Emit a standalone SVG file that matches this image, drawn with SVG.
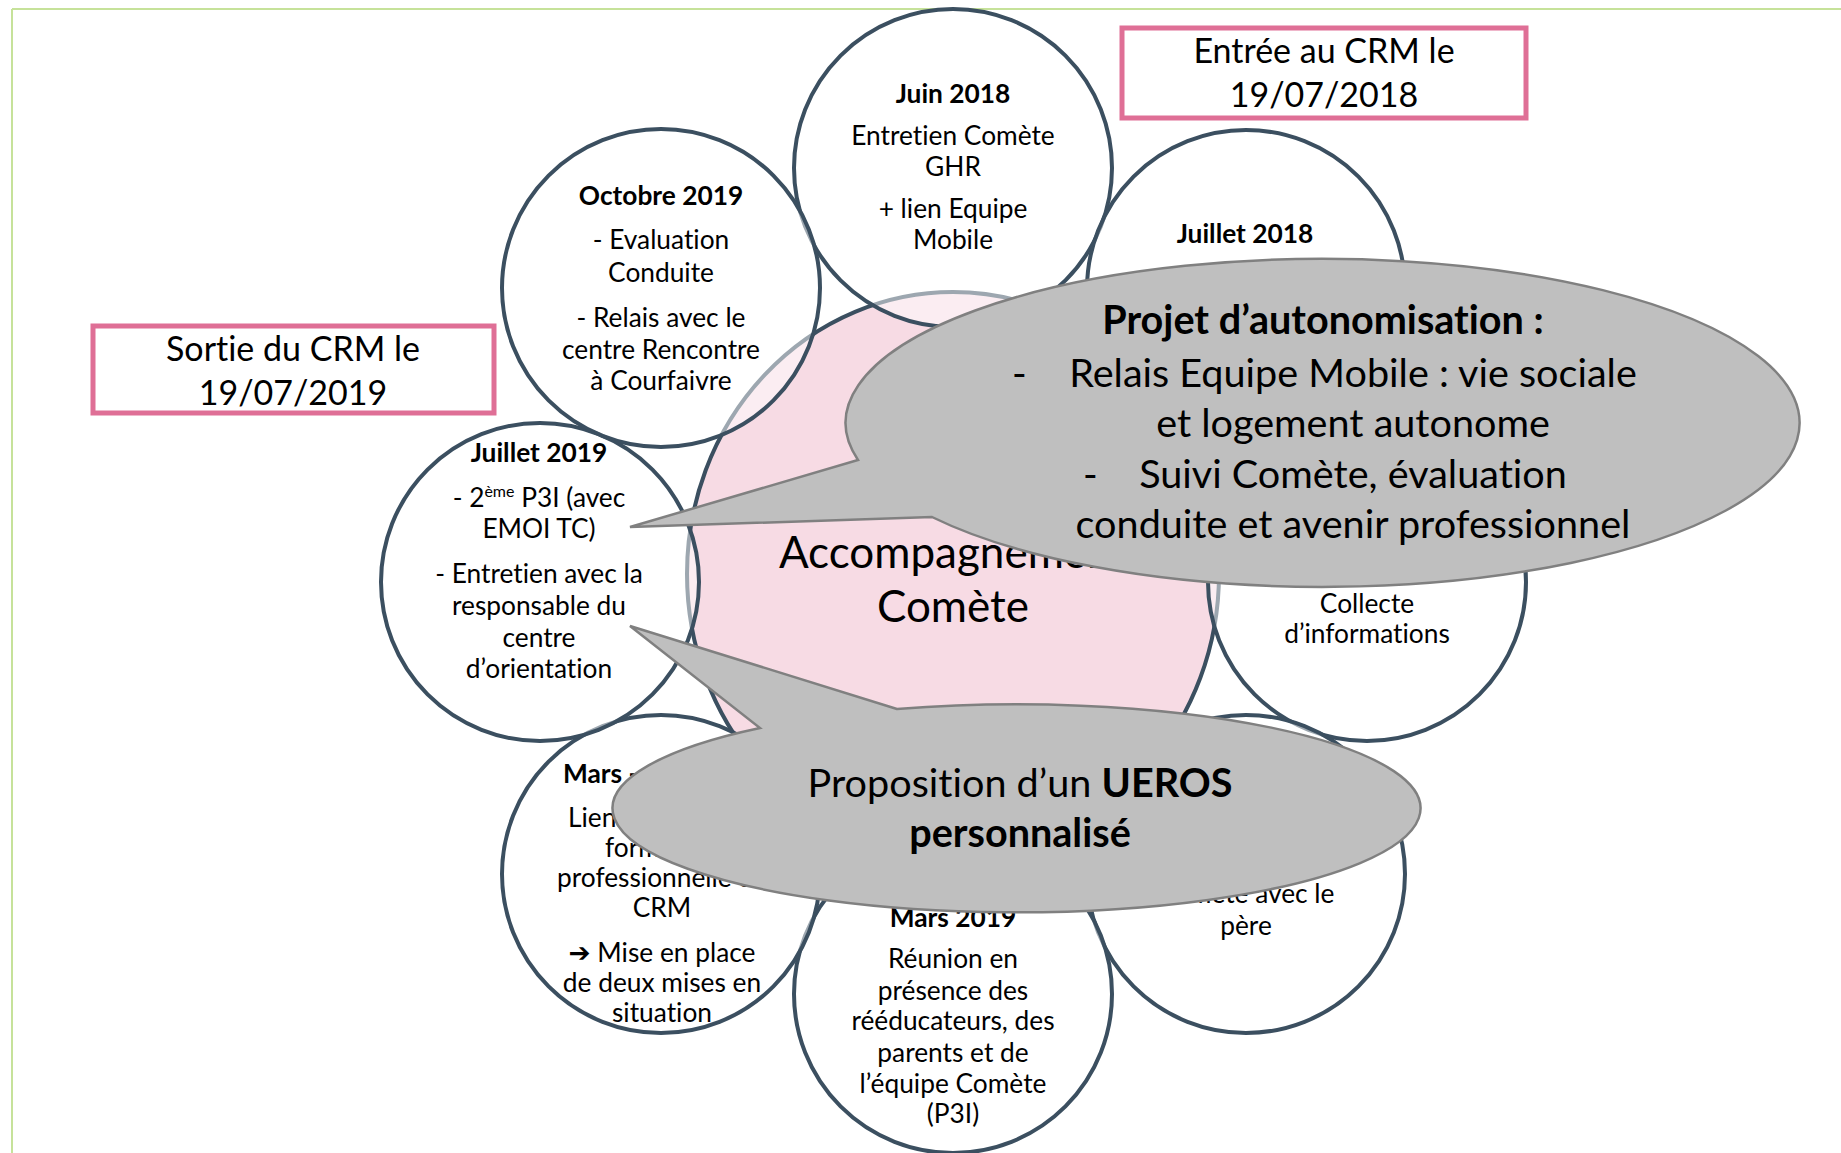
<svg xmlns="http://www.w3.org/2000/svg" width="1841" height="1153" viewBox="0 0 1841 1153">
<style>
text{font-family:Lato,"Liberation Sans","DejaVu Sans",sans-serif;fill:#000;text-anchor:middle;font-variant-ligatures:none}
.t{font-size:26.3px}
.s{text-anchor:start}
.b{font-weight:bold}
.node{fill:#fff;fill-opacity:.5;stroke:#3b4f60;stroke-width:4}
.hub{fill:#f7dbe4;stroke:#3b4f60;stroke-width:4}
.box{fill:#fff;stroke:#df6f96;stroke-width:5}
.bt{font-size:34px}
.callout{fill:#bfbfbf;stroke:#808080;stroke-width:2.5}
.ct{font-size:39.6px}
.ht{font-size:44px}
.frame{stroke:#c6e29a;stroke-width:2;fill:none}
</style>
<g id="frame">
<line class="frame" x1="12" y1="9" x2="1841" y2="9"/>
<line class="frame" x1="12" y1="9" x2="12" y2="1153"/>
</g>
<g id="box-entree">
<rect class="box" x="1122" y="28" width="404" height="90"/>
<text class="bt" x="1324" y="63">Entrée au CRM le</text>
<text class="bt" x="1324" y="107">19/07/2018</text>
</g>
<g id="box-sortie">
<rect class="box" x="93" y="326" width="401" height="87"/>
<text class="bt" x="293" y="361">Sortie du CRM le</text>
<text class="bt" x="293" y="405">19/07/2019</text>
</g>
<g id="hub">
<ellipse class="hub" cx="953" cy="574" rx="266" ry="282"/>
<text class="ht" x="953" y="568">Accompagnement</text>
<text class="ht" x="953" y="622">Comète</text>
</g>
<g id="node-juin2018">
<circle class="node" cx="953" cy="168" r="159"/>
<text class="t b" x="953" y="103">Juin 2018</text>
<text class="t" x="953" y="145">Entretien Comète</text>
<text class="t" x="953" y="176">GHR</text>
<text class="t" x="953" y="218">+ lien Equipe</text>
<text class="t" x="953" y="249">Mobile</text>
</g>
<g id="node-juillet2018">
<circle class="node" cx="1246" cy="289" r="159"/>
<text class="t b" x="1245" y="243">Juillet 2018</text>
</g>
<g id="node-collecte">
<circle class="node" cx="1367" cy="582" r="159"/>
<text class="t" x="1367" y="613">Collecte</text>
<text class="t" x="1367" y="643">d’informations</text>
</g>
<g id="node-pere">
<circle class="node" cx="1246" cy="874" r="159"/>
<text class="t" x="1246" y="903">Comète avec le</text>
<text class="t" x="1246" y="935">père</text>
</g>
<g id="node-mars2019">
<circle class="node" cx="953" cy="994" r="159"/>
<text class="t b" x="953" y="927">Mars 2019</text>
<text class="t" x="953" y="968">Réunion en</text>
<text class="t" x="953" y="1000">présence des</text>
<text class="t" x="953" y="1030">rééducateurs, des</text>
<text class="t" x="953" y="1062">parents et de</text>
<text class="t" x="953" y="1093">l’équipe Comète</text>
<text class="t" x="953" y="1123">(P3I)</text>
</g>
<g id="node-mars">
<circle class="node" cx="661" cy="874" r="159"/>
<text class="t b s" x="563" y="783">Mars -</text>
<text class="t s" x="568" y="827">Lien</text>
<text class="t s" x="605" y="857">form</text>
<text class="t s" x="557" y="887">professionnelle d</text>
<text class="t" x="662" y="917">CRM</text>
<text class="t" x="662" y="962"><tspan font-weight="bold">➔</tspan> Mise en place</text>
<text class="t" x="662" y="992">de deux mises en</text>
<text class="t" x="662" y="1022">situation</text>
</g>
<g id="node-juillet2019">
<circle class="node" cx="540" cy="582" r="159"/>
<text class="t b" x="539" y="462">Juillet 2019</text>
<text class="t" x="539" y="507">- 2<tspan font-size="16" dy="-10">ème</tspan><tspan dy="10"> P3I (avec</tspan></text>
<text class="t" x="539" y="538">EMOI TC)</text>
<text class="t" x="539" y="583">- Entretien avec la</text>
<text class="t" x="539" y="615">responsable du</text>
<text class="t" x="539" y="647">centre</text>
<text class="t" x="539" y="678">d’orientation</text>
</g>
<g id="node-octobre2019">
<circle class="node" cx="661" cy="288" r="159"/>
<text class="t b" x="661" y="205">Octobre 2019</text>
<text class="t" x="661" y="249">- Evaluation</text>
<text class="t" x="661" y="282">Conduite</text>
<text class="t" x="661" y="327">- Relais avec le</text>
<text class="t" x="661" y="359">centre Rencontre</text>
<text class="t" x="661" y="390">à Courfaivre</text>
</g>
<g id="connectors">
<g id="callout-projet">
<path class="callout" d="M932,517 L630,527 L858,460 A477,164 0 1 1 932,517 Z"/>
<text class="ct b" x="1323" y="334">Projet d’autonomisation :</text>
<text class="ct s" x="1012" y="387">-</text>
<text class="ct" x="1353" y="387">Relais Equipe Mobile : vie sociale</text>
<text class="ct" x="1353" y="437">et logement autonome</text>
<text class="ct s" x="1083" y="488">-</text>
<text class="ct" x="1353" y="488">Suivi Comète, évaluation</text>
<text class="ct" x="1353" y="538">conduite et avenir professionnel</text>
</g>
<g id="callout-ueros">
<path class="callout" d="M897,709 L630,626 L760,728 A404,104 0 1 0 897,709 Z"/>
<text class="ct" x="1020" y="797">Proposition d’un <tspan class="b">UEROS</tspan></text>
<text class="ct b" x="1020" y="847">personnalisé</text>
</g>
</g>
</svg>
